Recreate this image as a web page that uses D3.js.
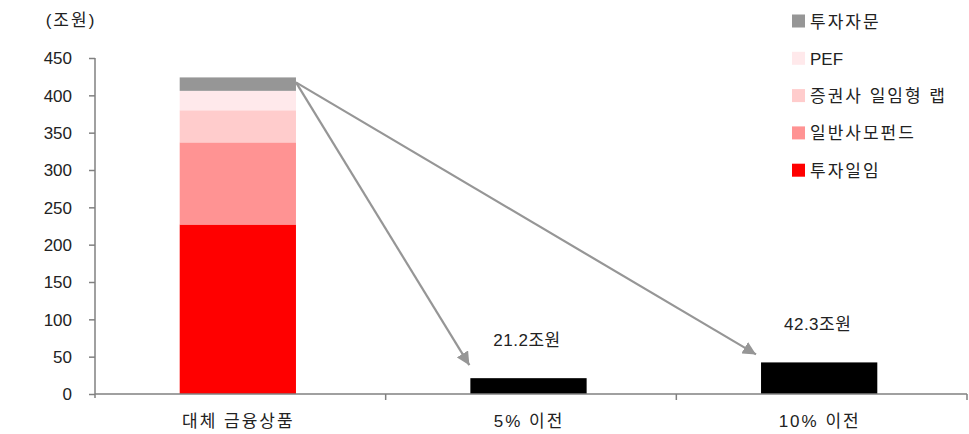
<!DOCTYPE html>
<html><head><meta charset="utf-8">
<script src="https://cdn.jsdelivr.net/npm/d3@7"></script>
<style>
body{margin:0;background:#fff;}
text{font-family:"Liberation Sans","Noto Sans CJK KR",sans-serif;fill:#222;}
</style></head>
<body><svg id="c" width="969" height="434"></svg>
<script>
const categories = ["대체 금융상품", "5% 이전", "10% 이전"];
const seriesNames = ["투자일임", "일반사모펀드", "증권사 일임형 랩", "PEF", "투자자문"];
const seriesColors = ["#ff0000", "#ff9393", "#ffcccc", "#ffe9eb", "#969696"];
const stackValues = [227, 110, 43, 26, 18];
const transferValues = [21.2, 42.3];
const transferLabels = ["21.2조원", "42.3조원"];
const yTicks = [0, 50, 100, 150, 200, 250, 300, 350, 400, 450];
const unitLabel = "(조원)";

const svg = d3.select("#c");
const x = d3.scaleBand().domain(categories).range([95, 967]).padding(0);
const y = d3.scaleLinear().domain([0, 450]).range([394, 58]);
const barW = x.bandwidth() * 0.4;
const off = -2.5;
const grey = "#808080";
const ff = '"Liberation Sans","Noto Sans CJK KR",sans-serif';
const hasKo = s => /[\uac00-\ud7a3]/.test(s);

svg.append("defs").append("marker").attr("id","ah").attr("viewBox","0 0 10 10")
  .attr("refX",10).attr("refY",5).attr("markerWidth",6).attr("markerHeight",6)
  .attr("markerUnits","strokeWidth").attr("orient","auto")
  .append("path").attr("d","M0,0L10,5L0,10z").attr("fill","#969696");

let cum = 0;
const stackData = stackValues.map((v,i)=>{const d={name:seriesNames[i],y0:cum,y1:cum+v,color:seriesColors[i]};cum+=v;return d;});
const cx0 = x(categories[0]) + x.bandwidth()/2 + off;
svg.selectAll("rect.s").data(stackData).enter().append("rect")
  .attr("x", cx0 - barW/2).attr("width", barW)
  .attr("y", d=>y(d.y1)).attr("height", d=>y(d.y0)-y(d.y1))
  .attr("fill", d=>d.color);

svg.selectAll("rect.t").data(transferValues).enter().append("rect")
  .attr("x",(d,i)=>x(categories[i+1])+x.bandwidth()/2+off-barW/2).attr("width",barW)
  .attr("y",d=>y(d)).attr("height",d=>y(0)-y(d)).attr("fill","#000");

svg.selectAll("text.tl").data(transferValues).enter().append("text")
  .attr("x",(d,i)=>x(categories[i+1])+x.bandwidth()/2-4)
  .attr("y",(d,i)=>y(d)-32).attr("text-anchor","middle").attr("font-size",17)
  .attr("letter-spacing",0.5)
  .text((d,i)=>transferLabels[i]);

const total = cum;
const sx = cx0 + barW/2, sy = y(total) + 5;
transferValues.forEach((v,i)=>{
  const tx = x(categories[i+1]) + x.bandwidth()/2 + off - barW/2 - (i===0?1:5);
  const ty = y(v) - (i===0?13:8);
  svg.append("line").attr("x1",sx).attr("y1",sy).attr("x2",tx).attr("y2",ty)
    .attr("stroke","#969696").attr("stroke-width",2.2).attr("marker-end","url(#ah)");
});

const yAxis = svg.append("g").attr("transform","translate(95,0)")
  .call(d3.axisLeft(y).tickValues(yTicks).tickSize(6).tickPadding(17));
yAxis.select(".domain").attr("stroke",grey).attr("stroke-width",1.5).attr("d","M0,58V398");
yAxis.selectAll(".tick line").attr("stroke",grey).attr("stroke-width",1.5);
yAxis.selectAll(".tick text").attr("font-size",17).attr("fill","#222").attr("dy","0.34em")
  .style("font-family",ff);

const xg = svg.append("g");
xg.append("line").attr("x1",95).attr("x2",967).attr("y1",y(0)).attr("y2",y(0)).attr("stroke",grey).attr("stroke-width",1.5);
const bounds = categories.map(c=>x(c)).concat([x(categories[2])+x.bandwidth()]).slice(1);
xg.selectAll("line.bt").data(bounds).enter().append("line")
  .attr("x1",d=>d).attr("x2",d=>d).attr("y1",y(0)).attr("y2",y(0)+6).attr("stroke",grey).attr("stroke-width",1.5);
xg.selectAll("text").data(categories).enter().append("text")
  .attr("x",d=>x(d)+x.bandwidth()/2-2).attr("y",427).attr("text-anchor","middle").attr("font-size",17)
  .attr("letter-spacing",2).text(d=>d);

svg.append("text").attr("x",71).attr("y",26).attr("text-anchor","middle").attr("font-size",17)
  .attr("letter-spacing",2).text(unitLabel);

const leg = svg.append("g");
const legItems = seriesNames.map((n,i)=>({n,c:seriesColors[i]})).reverse();
legItems.forEach((d,i)=>{
  const cy = 21 + i*37.3;
  leg.append("rect").attr("x",792).attr("y",cy-6.5).attr("width",13).attr("height",13).attr("fill",d.c);
  leg.append("text").attr("x",810).attr("y",cy+6.5).attr("font-size",17)
    .attr("letter-spacing",hasKo(d.n)?2:0).text(d.n);
});
</script></body></html>
